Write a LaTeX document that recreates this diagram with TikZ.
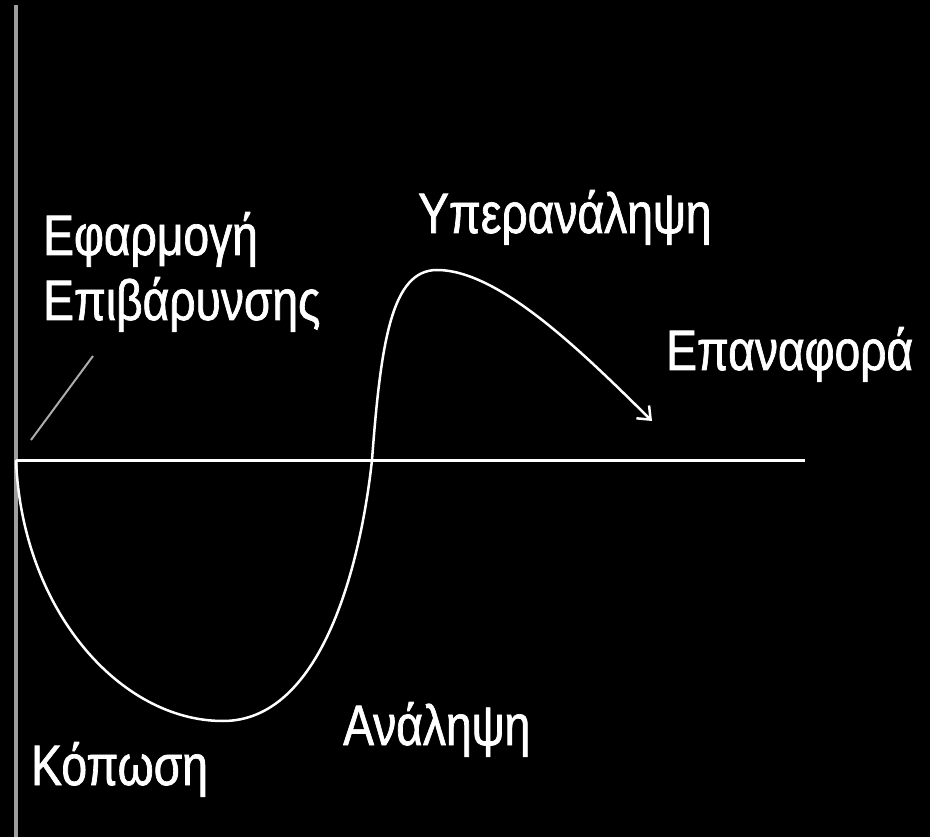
\documentclass[tikz,border=0pt]{standalone}
\usepackage{fontspec}
\newfontfamily\lab{Liberation Sans}[FakeStretch=0.81,FakeBold=1.2]
\usetikzlibrary{arrows.meta}
\begin{document}
\begin{tikzpicture}[x=1pt,y=-1pt,
  lbl/.style={text=white,font=\lab\fontsize{57}{60}\selectfont,anchor=base west,inner sep=0pt},
  axisv/.style={draw=gray!75,line width=4pt},
  axish/.style={draw=white,line width=3pt},
  curve/.style={draw=white,line width=2.5pt},
  pointer/.style={draw=gray!65,line width=2pt}]
\fill[black] (0,0) rectangle (930,837);
\useasboundingbox (0,0) rectangle (930,837);
\coordinate (vtop) at (16,5);
\coordinate (vbot) at (16,837);
\coordinate (o) at (16,460);
\coordinate (hend) at (805,460);
\coordinate (mn) at (223,721);
\coordinate (cross) at (372,460);
\coordinate (pk) at (437,270);
\coordinate (tip) at (652,421);
\coordinate (p1) at (31,440);
\coordinate (p2) at (93,356);
\draw[axisv] (vtop) -- (vbot);
\draw[axish] (o) -- (hend);
\draw[pointer] (p1) -- (p2);
\draw[curve,-{Straight Barb[length=11pt,width=18pt]}] (o)
  .. controls (22,610) and (120,721) .. (mn)
  .. controls (320,721) and (360,570) .. (cross)
  .. controls (381,340) and (392,270) .. (pk)
  .. controls (500,270) and (585,355) .. (tip);
\node[lbl] (ef) at (43,255) {Εφαρμογή};
\node[lbl] (ep) at (43,320) {Επιβάρυνσης};
\node[lbl] (yp) at (418,233) {Υπερανάληψη};
\node[lbl] (ea) at (666,370) {Επαναφορά};
\node[lbl] (an) at (343,745) {Ανάληψη};
\node[lbl] (ko) at (31,785) {Κόπωση};
\end{tikzpicture}
\end{document}
